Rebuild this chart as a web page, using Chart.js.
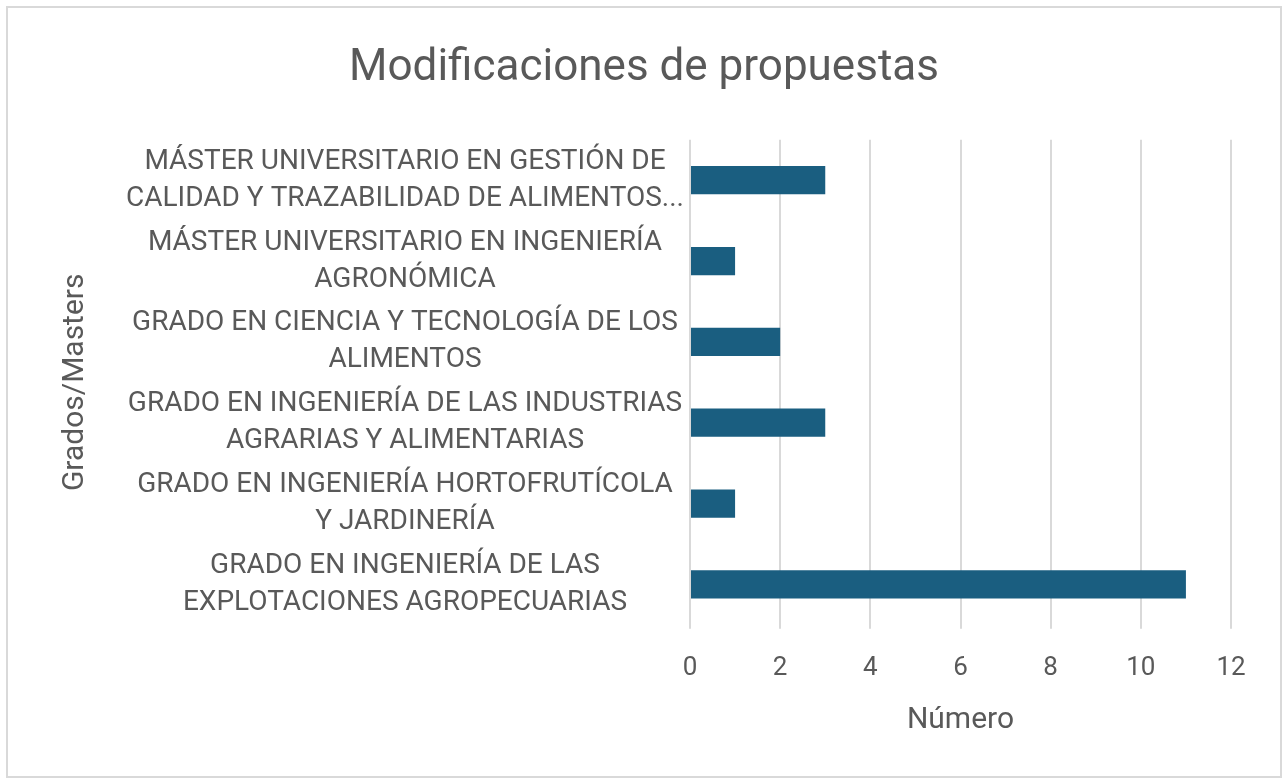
<!DOCTYPE html>
<html>
<head>
<meta charset="utf-8">
<script src="https://cdn.jsdelivr.net/npm/chart.js@4.4.1/dist/chart.umd.min.js"></script>
<style>
  html, body { margin: 0; padding: 0; background: #fff; }
  #wrap {
    position: absolute; left: 6px; top: 6px;
    width: 1272px; height: 768px;
    border: 2px solid #d9d9d9;
  }
  #chart { display: block; }
</style>
</head>
<body>
<div id="wrap"><canvas id="chart" width="1272" height="768"></canvas></div>
<script>
const titulos = [
    ['MÁSTER UNIVERSITARIO EN GESTIÓN DE', 'CALIDAD Y TRAZABILIDAD DE ALIMENTOS...'],
    ['MÁSTER UNIVERSITARIO EN INGENIERÍA', 'AGRONÓMICA'],
    ['GRADO EN CIENCIA Y TECNOLOGÍA DE LOS', 'ALIMENTOS'],
    ['GRADO EN INGENIERÍA DE LAS INDUSTRIAS', 'AGRARIAS Y ALIMENTARIAS'],
    ['GRADO EN INGENIERÍA HORTOFRUTÍCOLA', 'Y JARDINERÍA'],
    ['GRADO EN INGENIERÍA DE LAS', 'EXPLOTACIONES AGROPECUARIAS']
];

const modificaciones = [3, 1, 2, 3, 1, 11];

const ejeX = [0, 2, 4, 6, 8, 10, 12];

const gris = '#595959';
const fuente = 'Roboto, "Liberation Sans", sans-serif';

const config = {
    type: 'bar',
    data: {
        labels: titulos,
        datasets: [{
            label: 'Número',
            data: modificaciones,
            backgroundColor: '#1a5e80',
            barPercentage: 0.35,
            categoryPercentage: 1
        }]
    },
    options: {
        indexAxis: 'y',
        responsive: false,
        animation: false,
        layout: {
            padding: { left: 49, right: 49, top: 0, bottom: 38 }
        },
        plugins: {
            legend: { display: false },
            tooltip: { enabled: false },
            title: {
                display: true,
                text: 'Modificaciones de propuestas',
                color: gris,
                font: { family: fuente, size: 44, weight: 'normal' },
                padding: { top: 35, bottom: 44 }
            }
        },
        scales: {
            x: {
                min: ejeX[0],
                max: ejeX[ejeX.length - 1],
                afterBuildTicks: (scale) => {
                    scale.ticks = ejeX.map(v => ({ value: v }));
                },
                grid: {
                    color: '#d9d9d9',
                    lineWidth: 2,
                    tickLength: 4,
                    tickColor: '#d9d9d9'
                },
                border: { display: false },
                ticks: {
                    color: gris,
                    padding: 24,
                    font: { family: fuente, size: 26 }
                },
                title: {
                    display: true,
                    text: 'Número',
                    color: gris,
                    font: { family: fuente, size: 30 },
                    padding: { top: -6, bottom: 0 }
                }
            },
            y: {
                // fija el ancho del eje para que las barras empiecen en el mismo sitio
                afterFit: (scale) => { scale.width = 633; },
                grid: { display: false, drawTicks: false },
                border: { display: false },
                ticks: {
                    color: gris,
                    crossAlign: 'center',
                    padding: 6,
                    font: { family: fuente, size: 28, lineHeight: 1.32 }
                },
                title: {
                    display: true,
                    text: 'Grados/Masters',
                    color: gris,
                    font: { family: fuente, size: 30 },
                    padding: { top: 0, bottom: 0 }
                }
            }
        }
    }
};

const grafico = new Chart(
    document.getElementById('chart').getContext('2d'),
    config
);
</script>
</body>
</html>
